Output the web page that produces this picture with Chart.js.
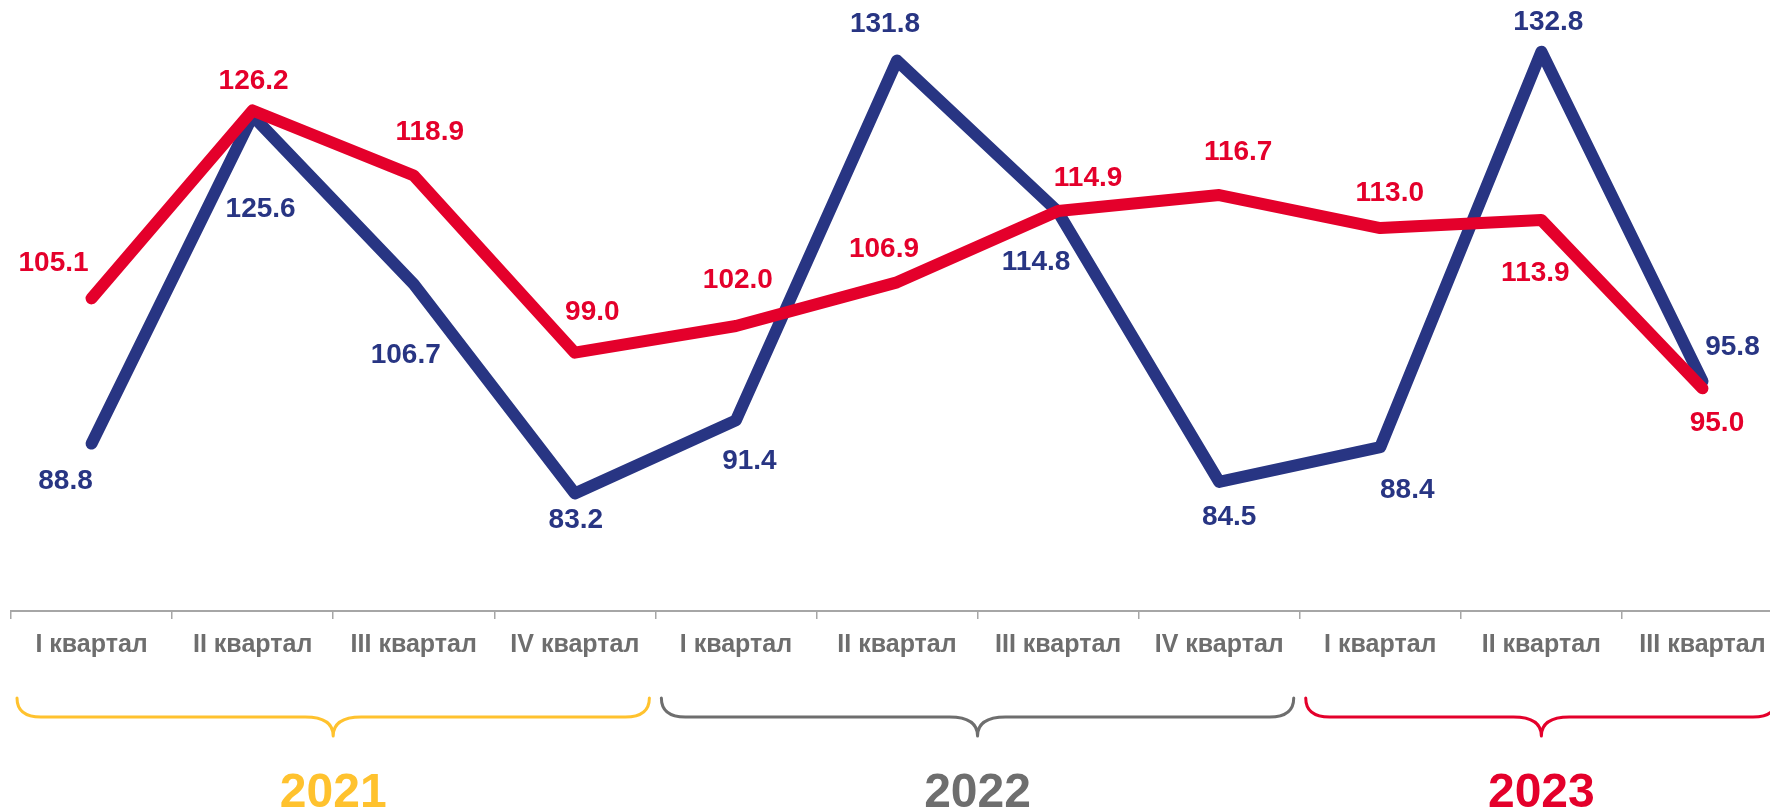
<!DOCTYPE html>
<html>
<head>
<meta charset="utf-8">
<script src="https://cdn.jsdelivr.net/npm/chart.js@4.4.1/dist/chart.umd.min.js"></script>
<style>
  html, body { margin: 0; padding: 0; background: #ffffff; width: 1770px; height: 810px; overflow: hidden; }
  #wrap { position: absolute; left: 0; top: 0; width: 1784px; height: 810px; }
</style>
</head>
<body>
<div id="wrap"><canvas id="chart" width="1784" height="810"></canvas></div>
<script>
// ---- data ----
const categories = [
  'I квартал', 'II квартал', 'III квартал', 'IV квартал',
  'I квартал', 'II квартал', 'III квартал', 'IV квартал',
  'I квартал', 'II квартал', 'III квартал'
];
const years = ['2021', '2022', '2023'];
const quartersPerYear = [4, 4, 3];
const blueValues = [88.8, 125.6, 106.7, 83.2, 91.4, 131.8, 114.8, 84.5, 88.4, 132.8, 95.8];
const redValues  = [105.1, 126.2, 118.9, 99.0, 102.0, 106.9, 114.9, 116.7, 113.0, 113.9, 95.0];

// ---- styles ----
const BLUE = '#283583';
const RED = '#E4002B';
const GRAY = '#6E6E6E';
const YELLOW = '#FFC22E';
const AXIS = '#A6A6A6';
const FONT = '"Liberation Sans", Arial, Helvetica, sans-serif';
const yearColors = [YELLOW, GRAY, RED];

// label placement (pixel offsets from each point, as in the reference)
const blueLabelOffsets = [[-26,38],[8,93],[-8,71],[1,26.5],[13.5,40.5],[-12,-36],[-22,50.5],[10,35],[27,43],[7,-29],[30,-34]];
const redLabelOffsets  = [[-38,-35],[1,-29],[16,-43],[17.5,-40],[2,-45.5],[-13,-33],[30,-33],[19,-43],[9.5,-35],[-6,53],[14.5,35]];

const valueLabels = {
  id: 'valueLabels',
  afterDatasetsDraw(chart) {
    const ctx = chart.ctx;
    chart.data.datasets.forEach((ds, di) => {
      const meta = chart.getDatasetMeta(di);
      const offs = ds.labelOffsets;
      ctx.save();
      ctx.font = 'bold 28px ' + FONT;
      ctx.fillStyle = ds.borderColor;
      ctx.textAlign = 'center';
      ctx.textBaseline = 'middle';
      meta.data.forEach((pt, i) => {
        const o = offs[i];
        ctx.fillText(ds.data[i].toFixed(1), pt.x + o[0], pt.y + o[1]);
      });
      ctx.restore();
    });
  }
};

const yearBraces = {
  id: 'yearBraces',
  afterDraw(chart) {
    const x = chart.scales.x;
    const ctx = chart.ctx;
    const b = chart.chartArea.bottom;
    const step = x.getPixelForValue(1) - x.getPixelForValue(0);
    let start = 0;
    years.forEach((yr, g) => {
      const n = quartersPerYear[g];
      const left = x.getPixelForValue(start) - step / 2 + 6;
      const right = x.getPixelForValue(start + n - 1) + step / 2 - 6;
      const cx = (left + right) / 2;
      const top = b + 87, mid = b + 106, tip = b + 125;
      const r = 24, rc = 28;
      ctx.save();
      ctx.strokeStyle = yearColors[g];
      ctx.lineWidth = 3;
      ctx.lineCap = 'round';
      ctx.lineJoin = 'round';
      ctx.beginPath();
      ctx.moveTo(left, top);
      ctx.quadraticCurveTo(left, mid, left + r, mid);
      ctx.lineTo(cx - rc, mid);
      ctx.quadraticCurveTo(cx, mid, cx, tip);
      ctx.quadraticCurveTo(cx, mid, cx + rc, mid);
      ctx.lineTo(right - r, mid);
      ctx.quadraticCurveTo(right, mid, right, top);
      ctx.stroke();
      ctx.font = 'bold 48px ' + FONT;
      ctx.fillStyle = yearColors[g];
      ctx.textAlign = 'center';
      ctx.textBaseline = 'alphabetic';
      ctx.fillText(yr, cx, b + 196);
      ctx.restore();
      start += n;
    });
  }
};

new Chart(document.getElementById('chart'), {
  type: 'line',
  data: {
    labels: categories,
    datasets: [
      {
        label: 'Ряд 2',
        data: redValues,
        borderColor: RED,
        backgroundColor: RED,
        borderWidth: 12,
        borderCapStyle: 'round',
        borderJoinStyle: 'round',
        pointRadius: 0,
        pointHoverRadius: 0,
        tension: 0,
        clip: false,
        order: 0,
        labelOffsets: redLabelOffsets
      },
      {
        label: 'Ряд 1',
        data: blueValues,
        borderColor: BLUE,
        backgroundColor: BLUE,
        borderWidth: 12,
        borderCapStyle: 'round',
        borderJoinStyle: 'round',
        pointRadius: 0,
        pointHoverRadius: 0,
        tension: 0,
        clip: false,
        order: 1,
        labelOffsets: blueLabelOffsets
      }
    ]
  },
  options: {
    responsive: false,
    maintainAspectRatio: false,
    devicePixelRatio: 1,
    animation: false,
    events: [],
    layout: { padding: { left: 11, right: 1, top: 0, bottom: 0 } },
    plugins: {
      legend: { display: false },
      tooltip: { enabled: false },
      title: { display: false }
    },
    scales: {
      x: {
        type: 'category',
        offset: true,
        afterFit(scale) { scale.height = 199; },
        border: { display: true, color: AXIS, width: 2 },
        grid: {
          display: true,
          offset: true,
          drawOnChartArea: false,
          drawTicks: true,
          tickLength: 8,
          color: AXIS,
          lineWidth: 1.5
        },
        ticks: {
          color: GRAY,
          font: { family: FONT, size: 25, weight: 'bold' },
          padding: 11,
          maxRotation: 0,
          autoSkip: false
        }
      },
      y: {
        display: false,
        min: 70,
        max: 138.6
      }
    }
  },
  plugins: [valueLabels, yearBraces]
});
</script>
</body>
</html>
